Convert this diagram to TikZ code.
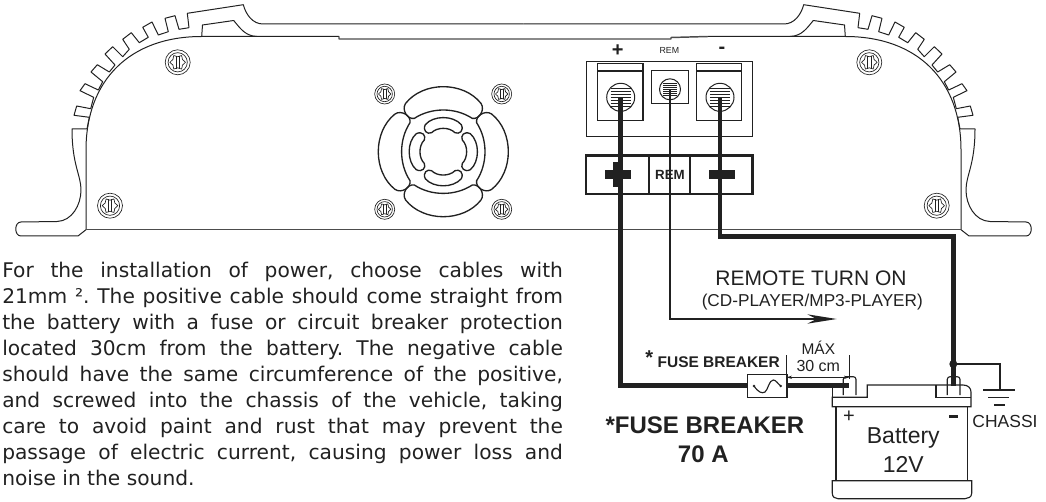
\documentclass[tikz,border=0pt]{standalone}
\usepackage{fontspec}
\setmainfont{Liberation Sans}
\newfontfamily\bodyfont{DejaVu Sans}
\usetikzlibrary{arrows.meta}

\definecolor{inkline}{gray}{.13}
\newcommand{\pxfont}[1]{\fontsize{#1}{#1}\selectfont}

\tikzset{
  shell/.style={draw=inkline,line width=.75pt,line join=round},
  cable/.style={draw=inkline,line width=3.6pt,line join=miter},
  thinwire/.style={draw=inkline,line width=.95pt},
  boxline/.style={draw=inkline,line width=.85pt},
  lettering/.style={inner sep=0pt,text=inkline,align=center},
}

% one screw head, centre and radius in pixels
\newcommand{\screwhead}[3]{
  \begin{scope}[shift={(#1,#2)},scale=#3,line width=.5pt]
    \draw[inkline] (0,0) circle (1);
    \draw[inkline] (0,0) circle (.77);
    \draw[inkline] plot[smooth cycle,samples at={0,30,...,330}] (\x:{.53+.09*cos(6*\x)});
    \draw[inkline] (-.14,-.5) -- (-.14,.5) (.14,-.5) -- (.14,.5);
  \end{scope}
}

% left half of the case, the right half is the same thing mirrored
\newcommand{\halfcase}{
  \draw[shell] (86,229.7) -- (78,236) -- (21,236)
    .. controls (14,236) and (14,222) .. (21,222) -- (57,221.5)
    .. controls (72,221) and (81,205) .. (81,190)
    .. controls (81,175) and (72,165) .. (72,129) -- (87,129)
    -- (89.3,117.3) -- (74,115.3) -- (76.7,106) -- (90.7,108.7)
    -- (93.7,97.3) -- (80,90.7) -- (85,83.7) -- (98.3,90)
    -- (102.7,81.7) -- (91,72) -- (97.3,64.7) -- (109.3,72)
    -- (115,65) -- (105,54) -- (112.7,46.7) -- (122.7,56.7)
    -- (129.3,49.3) -- (122.7,39.3) -- (131.3,32.7) -- (139.3,42.7)
    -- (148.3,37.3) -- (142.7,27.3) -- (152,22) -- (158.3,35)
    -- (168.3,31.7) -- (165,18.3) -- (175,15.7) -- (179,29.3)
    -- (189,27.7) -- (187.3,13.3) -- (243.3,4.7)
    .. controls (246,15) and (253,24) .. (263,24) -- (523.5,24);
  \draw[shell] (86,229.7) -- (86,150)
    .. controls (86,80) and (130,36.5) .. (201.7,36.5) -- (339,36.5);
  \draw[shell] (201.7,36.5) -- (202.5,25) -- (233.7,20.5)
    .. controls (240,28) and (245,36) .. (257,36.5);
}

\begin{document}
\begin{tikzpicture}[x=.75pt,y=-.75pt]
  \useasboundingbox (0,0) rectangle (1046,502);

  \coordinate (PosTop)  at (620.7,97.3);
  \coordinate (RemTop)  at (670,89.3);
  \coordinate (NegTop)  at (720,97.3);
  \coordinate (PosPost) at (849,385.5);
  \coordinate (NegPost) at (953.3,385.5);
  \coordinate (FuseL)   at (747.3,385.5);
  \coordinate (FuseR)   at (786.7,385.5);
  \coordinate (Tap)     at (953.3,364);
  \coordinate (Earth)   at (1000,390);

  % case
  \halfcase
  \begin{scope}[shift={(1047,0)},xscale=-1]
    \halfcase
  \end{scope}
  \draw[shell,line width=1.1pt,draw=black!70] (339,36.5) -- (339,39) -- (671,39) -- (671,37.5) -- (708,36.5);
  \draw[shell,draw=black!70] (86,229.7) -- (961,229.7);

  \screwhead{177.7}{62.3}{12.5}
  \screwhead{110}{205.7}{12.5}
  \screwhead{869.3}{62.3}{12.5}
  \screwhead{936.7}{205.7}{12.5}
  \screwhead{384.7}{94}{10}
  \screwhead{501.7}{94}{10}
  \screwhead{384.7}{209.3}{10}
  \screwhead{501.7}{209.3}{10}

  % fan
  \foreach \ang in {0,90,180,270} {
    \begin{scope}[shift={(443.3,151.7)},rotate=\ang,line width=1pt]
      \draw[inkline] (-37.7,-48.3) .. controls (-20,-70.6) and (20,-70.6) .. (37.7,-48.3)
        .. controls (42,-42) and (36,-32) .. (29,-33.3)
        .. controls (12,-44.5) and (-12,-44.5) .. (-29,-33.3)
        .. controls (-36,-32) and (-42,-42) .. cycle;
      \draw[inkline] (-18,-27) .. controls (-10,-36.5) and (10,-36.5) .. (18,-27)
        .. controls (21,-21) and (16,-17) .. (11.7,-19)
        .. controls (6,-24.8) and (-6,-24.8) .. (-11.7,-19)
        .. controls (-16,-17) and (-21,-21) .. cycle;
    \end{scope}
  }

  % terminal block
  \draw[boxline] (586.7,61.7) rectangle (752.7,136.7);
  \draw[boxline] (597.7,63.3) rectangle (643,120.7);
  \draw[boxline] (597.7,71) -- (643,71);
  \draw[boxline] (696.3,63.3) rectangle (741.7,120.7);
  \draw[boxline] (696.3,71) -- (741.7,71);
  \draw[boxline] (651.7,70.7) rectangle (688.3,103.3);
  \draw[shell] (PosTop) circle (14) (NegTop) circle (14);
  \draw[shell] (RemTop) circle (10.5);
  \foreach \yy in {-9,-6,...,9} {
    \draw[shell,line width=.5pt] (610.5,97.3+\yy) -- (630.9,97.3+\yy);
    \draw[shell,line width=.5pt] (709.8,97.3+\yy) -- (730.2,97.3+\yy);
  }
  \foreach \yy in {-6,-4,...,6} {
    \draw[shell,line width=.5pt] (663,89.3+\yy) -- (677,89.3+\yy);
  }

  \node[lettering,font=\bfseries\pxfont{15}] (plusmark) at (617.7,50.5) {+};
  \node[lettering,font=\pxfont{6.6}] (remmark) at (669.3,50.7) {REM};
  \node[lettering,font=\bfseries\pxfont{15}] (minusmark) at (722,50) {-};

  % cables
  \draw[thinwire,-{Stealth[length=22pt,width=7pt,inset=7pt]}] (RemTop) |- (836.7,319);
  \draw[cable] (PosTop) |- (FuseL);
  \draw[cable] (FuseR) -- (PosPost);
  \draw[cable] (NegTop) |- (953.3,236.7) -- (NegPost);

  % label strip
  \draw[draw=inkline,line width=2pt] (586,155.7) rectangle (752.7,194);
  \draw[draw=inkline,line width=2pt] (649,155.7) -- (649,194) (690,155.7) -- (690,194);
  \fill[inkline] (605.3,170) rectangle (630.7,178.7);
  \fill[inkline] (613.3,161.7) rectangle (623.3,186.7);
  \fill[inkline] (709,170) rectangle (735,178.7);
  \node[lettering,font=\bfseries\pxfont{10}] (stripname) at (670,174.7) {REM};

  % fuse
  \draw[boxline,line width=1.2pt,fill=white] (747.3,374.3) rectangle (786.7,397.3);
  \draw[boxline] (754,386) .. controls (758,392) and (762,394) .. (765,392)
    .. controls (768,390) and (769,380) .. (773.3,380)
    .. controls (776,380) and (778,384) .. (780.7,386);
  \fill[inkline] (754,386) circle (1.4) (780.7,386) circle (1.4);

  % ground
  \fill[inkline] (Tap) circle (4);
  \draw[thinwire] (Tap) -| (Earth);
  \draw[thinwire] (983.3,390) -- (1015,390);
  \draw[thinwire] (988.3,397.3) -- (1009.3,397.3);
  \draw[thinwire] (994,405) -- (1005,405);

  % battery
  \draw[boxline] (836,406.7) -- (836,480.7) (967.7,406.7) -- (967.7,480.7);
  \draw[boxline] (832.3,397.3) -- (832.3,406.7) -- (971,406.7) -- (971,392)
    .. controls (971,388) and (968,385) .. (963,385) -- (867.3,385) -- (867.3,397.3) -- cycle;
  \draw[boxline] (832.3,385) -- (843.3,385) (936,385) -- (936,397.3) -- (971,397.3);
  \draw[boxline] (832.3,385) -- (832.3,397.3);
  \draw[boxline] (832.3,480.7) -- (971.7,480.7) -- (971.7,493.3)
    .. controls (971.7,497) and (968,498.7) .. (965,498.7) -- (838,498.7)
    .. controls (835,498.7) and (832.3,497) .. (832.3,493.3) -- cycle;
  \draw[boxline,rounded corners=2pt] (843.3,395) -- (843.3,376.7) -- (856,376.7) -- (856,395);
  \draw[boxline,rounded corners=2pt] (947.3,395) -- (947.3,376.7) -- (960,376.7) -- (960,395);
  \node[lettering,font=\pxfont{15}] (batplus) at (849,417) {+};
  \fill[inkline] (949,414.5) rectangle (957.5,417.5);
  \node[lettering,font=\pxfont{17.25}] (batname) at (903.3,437.7) {Battery};
  \node[lettering,font=\pxfont{17.25}] (batvolt) at (903.3,464) {12V};

  % dimension
  \draw[thinwire,line width=.6pt] (786.7,355) -- (786.7,379);
  \draw[thinwire,line width=.6pt] (849.3,355) -- (849.3,379);
  \draw[thinwire,line width=.6pt,{Stealth[length=4pt,width=2.5pt]}-{Stealth[length=4pt,width=2.5pt]}] (786.7,377.3) -- (849.3,377.3);

  % labels
  \node[lettering,font=\pxfont{15.75}] (remote) at (811,278.7) {REMOTE TURN ON};
  \node[lettering,font=\pxfont{12.9}] (remotesub) at (812.3,301.7) {(CD-PLAYER/MP3-PLAYER)};
  \node[lettering,font=\bfseries\pxfont{15}] (fusestar) at (649.3,358) {*};
  \node[lettering,font=\bfseries\pxfont{11.6}] (fusesmall) at (718.7,361.7) {FUSE BREAKER};
  \node[lettering,font=\pxfont{11.6}] (maxlabel) at (818.3,347.3) {MÁX};
  \node[lettering,font=\pxfont{12}] (maxvalue) at (818.3,366) {30 cm};
  \node[lettering,font=\pxfont{13.1}] (chassi) at (1005,421.7) {CHASSI};
  \node[lettering,font=\bfseries\pxfont{18}] (fusebig) at (705,425) {*FUSE BREAKER};
  \node[lettering,font=\bfseries\pxfont{18}] (fuseamps) at (703.3,454.3) {70 A};

  % text
  \node[anchor=north west,inner sep=0pt,text width=420.5pt,align=justify,text=inkline,
    font=\bodyfont\fontsize{15.15}{19.5}\selectfont\frenchspacing] (manualtext) at (2,261.4) {%
    For the installation of power, choose cables with\linebreak
    21mm ². The positive cable should come straight from\linebreak
    the battery with a fuse or circuit breaker protection\linebreak
    located 30cm from the battery. The negative cable\linebreak
    should have the same circumference of the positive,\linebreak
    and screwed into the chassis of the vehicle, taking\linebreak
    care to avoid paint and rust that may prevent the\linebreak
    passage of electric current, causing power loss and\linebreak
    noise in the sound.};
\end{tikzpicture}
\end{document}
